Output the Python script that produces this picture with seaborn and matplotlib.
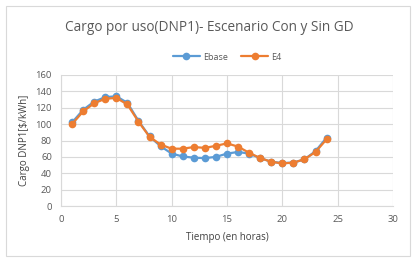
import matplotlib
matplotlib.use("Agg")
import matplotlib.pyplot as plt
import seaborn as sns
import pandas as pd
from matplotlib.patches import FancyBboxPatch

# Hours and charge values
horas = list(range(1, 25))
ebase = [102, 117.5, 127.5, 133, 134, 126, 104, 85, 73, 64, 60.5, 59, 58.5, 60,
         64, 66, 64, 58.5, 54, 52.5, 53, 57, 67, 83.5]
e4 = [100, 115.5, 125.5, 131, 132, 124, 103, 84.5, 75, 70, 70, 72, 71, 73.5,
      76.5, 72.5, 65, 58.5, 54, 52, 53, 57, 66, 81.5]

series_names = ["Ebase", "E4"]
colors = ["#5B9BD5", "#ED7D31"]

df = pd.concat([
    pd.DataFrame({"hora": horas, "valor": ebase, "serie": "Ebase"}),
    pd.DataFrame({"hora": horas, "valor": e4, "serie": "E4"}),
])

sns.set_theme(style="white")
plt.rcParams["font.family"] = ["Open Sans", "DejaVu Sans"]

fig = plt.figure(figsize=(4.18, 2.62), dpi=100)
fig.patch.set_facecolor("white")
frame = FancyBboxPatch((6 / 418, 6 / 262), 404 / 418, 250 / 262,
                       boxstyle="square,pad=0", transform=fig.transFigure,
                       facecolor="none", edgecolor="#D9D9D9", linewidth=0.8,
                       zorder=-1)
fig.patches.append(frame)

ax = fig.add_axes([61 / 418, 56 / 262, 332 / 418, 131 / 262])
ax.patch.set_alpha(0)
sns.lineplot(data=df, x="hora", y="valor", hue="serie", hue_order=series_names,
             palette=colors, marker="o", markersize=5.5, markeredgewidth=0,
             linewidth=1.6, ax=ax, legend=True)

ax.set_xlim(0, 30)
ax.set_ylim(0, 160)
ax.set_xticks(range(0, 31, 5))
ax.set_yticks(range(0, 161, 20))
ax.grid(True, color="#D9D9D9", linewidth=0.8)
ax.set_axisbelow(True)
for side in ["top", "right"]:
    ax.spines[side].set_visible(False)
for side in ["left", "bottom"]:
    ax.spines[side].set_color("#D9D9D9")
    ax.spines[side].set_linewidth(0.8)
ax.tick_params(axis="both", labelsize=6.8, colors="#595959", length=2.5,
               width=0.8, direction="out", pad=4)
ax.tick_params(axis="both", color="#D9D9D9")
ax.set_xlabel("Tiempo (en horas)", fontsize=7, color="#404040", labelpad=6)
ax.set_ylabel("Cargo DNP1[$/kWh]", fontsize=7, color="#404040", labelpad=4)

ax.legend(loc="lower center", bbox_to_anchor=(0.5, 1.04), ncol=2, frameon=False,
          fontsize=6.5, handlelength=3, columnspacing=1.5, handletextpad=0.3,
          labelcolor="#595959")

fig.text(0.5, 0.895, "Cargo por uso(DNP1)- Escenario Con y Sin GD", ha="center",
         va="center", fontsize=9.8, color="#595959")

fig.savefig("out.png", dpi=100)
